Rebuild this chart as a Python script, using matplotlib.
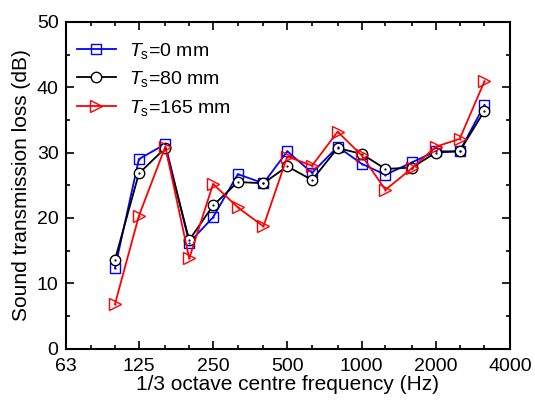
import matplotlib
matplotlib.use('Agg')
import matplotlib.pyplot as plt
import numpy as np
from matplotlib.ticker import FixedLocator, NullFormatter, MultipleLocator

plt.rcParams['font.family'] = ['Liberation Sans', 'DejaVu Sans']
plt.rcParams['mathtext.fontset'] = 'custom'
plt.rcParams['mathtext.rm'] = 'Liberation Sans'
plt.rcParams['mathtext.it'] = 'Liberation Sans:italic'

# 1/3 octave band centre frequencies (Hz)
freq = [100, 125, 160, 200, 250, 315, 400, 500, 630, 800, 1000, 1250, 1600, 2000, 2500, 3150]

# sound transmission loss (dB)
stl_0 = [12.3, 29.0, 31.3, 16.2, 20.1, 26.7, 25.3, 30.2, 26.9, 30.9, 28.3, 26.6, 28.5, 30.2, 30.2, 37.3]
stl_80 = [13.6, 26.8, 30.7, 16.6, 21.9, 25.5, 25.3, 27.9, 25.8, 30.7, 29.8, 27.5, 27.7, 30.0, 30.2, 36.4]
stl_165 = [6.8, 20.3, 30.9, 13.8, 25.2, 21.6, 18.7, 29.4, 28.0, 33.2, 29.6, 24.3, 27.6, 30.9, 32.1, 40.9]

major_ticks = [63, 125, 250, 500, 1000, 2000, 4000]
minor_ticks = [80, 100, 160, 200, 315, 400, 630, 800, 1250, 1600, 2500, 3150]

fig = plt.figure(figsize=(5.35, 4.01), dpi=100)
ax = fig.add_axes([65.5 / 535, 1 - 348.5 / 401, (510 - 65.5) / 535, (348.5 - 22) / 401])

ax.plot(freq, stl_0, color='blue', lw=1.3, marker='s', ms=6.5, mfc='none', mec='blue', mew=1.0,
        label=r'$T_{\rm s}$=0 mm')
ax.plot(freq, stl_80, color='black', lw=1.3, marker='o', ms=7.5, mfc='white', mec='black', mew=1.0,
        label=r'$T_{\rm s}$=80 mm')
ax.plot(freq, stl_165, color='red', lw=1.3, marker='>', ms=8.5, mfc='none', mec='red', mew=1.0,
        label=r'$T_{\rm s}$=165 mm')
# small centre dots in the markers
for y, c in [(stl_0, 'blue'), (stl_80, 'black'), (stl_165, 'red')]:
    ax.plot(freq, y, ls='none', marker='.', ms=1.2, color=c)

ax.set_xscale('log')
ax.set_xlim(63, 4000)
ax.set_ylim(0, 50)
ax.xaxis.set_major_locator(FixedLocator(major_ticks))
ax.xaxis.set_minor_locator(FixedLocator(minor_ticks))
ax.xaxis.set_minor_formatter(NullFormatter())
ax.set_xticklabels([str(t) for t in major_ticks])
ax.yaxis.set_major_locator(MultipleLocator(10))
ax.yaxis.set_minor_locator(MultipleLocator(5))

ax.tick_params(which='both', direction='in', top=True, right=True, labelsize=14, width=1.2)
ax.tick_params(which='major', length=6)
ax.tick_params(which='minor', length=3)
ax.tick_params(axis='x', which='major', pad=7)
ax.tick_params(axis='y', which='major', pad=5)
for s in ax.spines.values():
    s.set_linewidth(1.5)

ax.set_xlabel('1/3 octave centre frequency (Hz)', fontsize=15, labelpad=0)
ax.set_ylabel('Sound transmission loss (dB)', fontsize=15, labelpad=4)

ax.legend(loc='upper left', bbox_to_anchor=(-0.005, 0.985), frameon=False, fontsize=14,
          handlelength=2.0, borderaxespad=0.3, labelspacing=0.45, handletextpad=0.7,
          borderpad=0.4)

fig.savefig('out.png', dpi=100)
